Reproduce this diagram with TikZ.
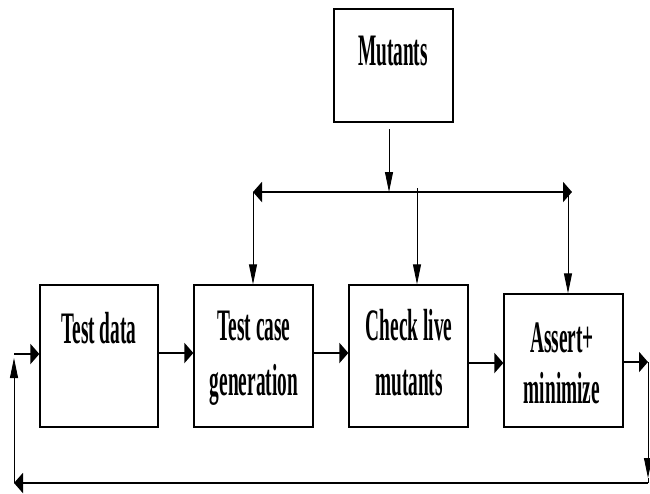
\documentclass[tikz,border=0pt]{standalone}
\usepackage{fontspec}
\usepackage{graphicx}
\usetikzlibrary{arrows.meta}
\newfontfamily\tfont{Liberation Serif}
\newcommand\sqlab[1]{\scalebox{0.43}[1]{\begin{tabular}[t]{@{}c@{}}#1\end{tabular}}}
\begin{document}
\begin{tikzpicture}[x=1pt,y=-1pt,
  box/.style={draw, line width=1.3pt, minimum width=119pt, minimum height=142pt, inner sep=0pt},
  lbl/.style={font=\tfont\bfseries\fontsize{45}{55}\selectfont, inner sep=0pt, anchor=base},
  hline/.style={line width=2.4pt},
  vline/.style={line width=0.9pt},
  hhead/.tip={Triangle[length=9pt,width=20pt]},
  vhead/.tip={Triangle[length=20pt,width=8pt]}]
\useasboundingbox (0,0) rectangle (650,493);
% boxes
\node[box, minimum height=113pt] (mut) at (393.5,65.5) {};
\node[box, minimum width=118pt] (td) at (99,356) {};
\node[box] (tc) at (253.5,356) {};
\node[box] (cl) at (408.5,356) {};
\node[box, minimum height=133pt] (am) at (563.5,360.5) {};
% labels
\node[lbl] (mutl) at (393,65) {\sqlab{Mutants}};
\node[lbl] (tdl) at (99,343) {\sqlab{Test data}};
\node[lbl] (tcl) at (254,340) {\sqlab{Test case\\generation}};
\node[lbl] (cll) at (409,340) {\sqlab{Check live\\mutants}};
\node[lbl, font=\tfont\bfseries\fontsize{45}{51}\selectfont] (aml) at (562,352) {\sqlab{Assert+\\minimize}};
% distribution of mutants
\coordinate (ms) at (389,129);
\coordinate (j) at (389,192);
\coordinate (bl) at (253,192);
\coordinate (br) at (572,192);
\coordinate (m) at (417,188);
\coordinate (r) at (568,192);
\draw[vline, -vhead] (ms) -- (j);
\draw[hline, hhead-hhead] (bl) -- (br);
\draw[vline, -vhead] (bl) -- (bl |- tc.north);
\draw[vline, -vhead] (m) -- (m |- cl.north);
\draw[vline, -vhead] (r) -- (r |- am.north);
% main flow
\coordinate (in) at (14,354);
\draw[hline, -hhead] (in) -- (in -| td.west);
\coordinate (te) at ([yshift=3pt]td.east);
\draw[hline, -hhead] (te) -- (te -| tc.west);
\coordinate (tce) at ([yshift=3pt]tc.east);
\draw[hline, -hhead] (tce) -- (tce -| cl.west);
\coordinate (ce) at ([yshift=-7pt]cl.east);
\draw[hline, -hhead] (ce) -- (ce -| am.west);
\coordinate (o) at (648,362);
\draw[hline, -hhead] (o -| am.east) -- (o);
% feedback
\coordinate (fbd) at (648,478);
\coordinate (fbR) at (648,483);
\coordinate (fbL) at (14,483);
\coordinate (fbT) at (14,358);
\draw[vline, -vhead] (o) -- (fbd);
\draw[vline] (fbd) -- (fbR);
\draw[hline, -hhead] (fbR) -- (fbL);
\draw[vline, -vhead] (fbL) -- (fbT);
\end{tikzpicture}
\end{document}
